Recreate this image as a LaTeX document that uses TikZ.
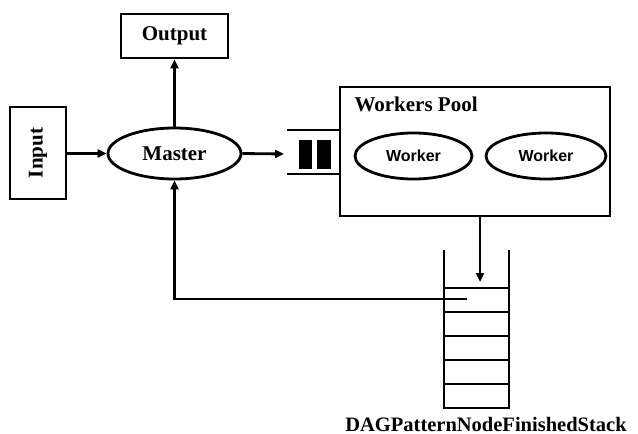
\documentclass[tikz,border=0pt]{standalone}
\usepackage{fontspec}
\setmainfont{Liberation Serif}
\newfontfamily\workerfont{Liberation Sans}
\usetikzlibrary{shapes.geometric,arrows.meta,calc}

\tikzset{
  line/.style={line width=2.8pt},
  flow/.style={line, -{Triangle[length=9pt,width=8pt]}},
  box/.style={line, draw, rectangle, inner sep=0pt},
  oval/.style={line, draw, ellipse, inner sep=0pt},
  title/.style={font=\fontsize{21}{24}\selectfont\bfseries},
  wlabel/.style={font=\fontsize{16}{18}\selectfont\workerfont\bfseries},
}

\begin{document}
\begin{tikzpicture}[x=1pt,y=-1pt]
\useasboundingbox (0,0) rectangle (638,434);

% main boxes and processes
\node[box, minimum width=107pt, minimum height=44pt] (output) at (174.5,36) {};
\node[title] at (output.center) {Output};
\node[box, minimum width=56pt, minimum height=92pt] (input) at (38,153) {};
\node[title, rotate=90] at (input.center) {Input};
\node[oval, minimum width=133pt, minimum height=51pt] (master) at (174.5,153.5) {};
\node[title] at (master.center) {Master};

% workers pool
\node[box, minimum width=270pt, minimum height=129pt] (pool) at (475,151.5) {};
\node[title, anchor=west] (pooltitle) at (351,104) {Workers Pool};
\node[oval, minimum width=117pt, minimum height=46pt, wlabel] (w1) at (413.5,156) {Worker};
\node[oval, minimum width=120pt, minimum height=46pt, wlabel] (w2) at (546,156) {Worker};

% task queue in front of the pool
\coordinate (qin) at (284,154);
\draw[line] (287,130) -- (pool.west |- 0,130);
\draw[line] (287,174) -- (pool.west |- 0,174);
\fill (299,140) rectangle (312,169);
\fill (317,140) rectangle (331,169);

% finished stack
\draw[line] (444,250) -- (444,408) -- (509,408) -- (509,250);
\foreach \yy in {288,312,336,360,384}
  \draw[line] (444,\yy) -- (509,\yy);
\coordinate (stackin) at (480,282);
\coordinate (stackout) at (467,299);
\node[font=\fontsize{20.5}{24}\selectfont\bfseries] (stacklabel) at (486,424) {DAGPatternNodeFinishedStack};

% connectors
\draw[flow] (input.east |- master.west) -- (master.west);
\draw[flow] (master.north) -- (master.north |- output.south);
\draw[flow] (master.east) -- (qin);
\draw[flow] (stackin |- pool.south) -- (stackin);
\draw[flow] (stackout) -| (master.south);
\end{tikzpicture}
\end{document}
